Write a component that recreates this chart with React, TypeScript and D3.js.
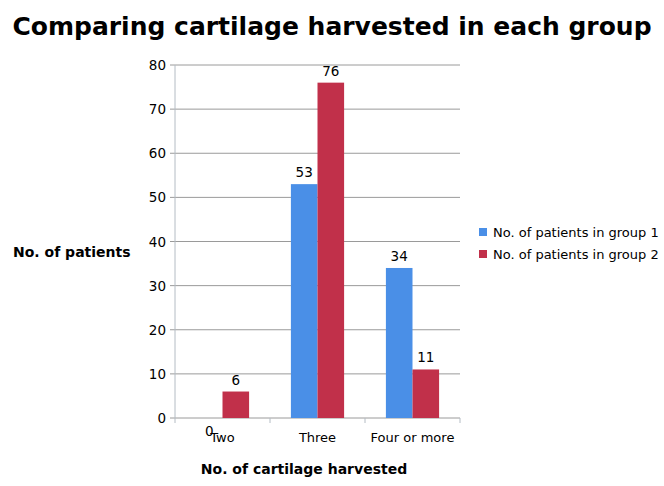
import React from "react";
import * as d3 from "d3";

const categories = ["Two", "Three", "Four or more"];
const seriesNames = ["No. of patients in group 1", "No. of patients in group 2"];
const group1 = [0, 53, 34];
const group2 = [6, 76, 11];
const yTicks = [0, 10, 20, 30, 40, 50, 60, 70, 80];
const colors = ["#4a8fe7", "#c1304a"];

const W = 664, H = 486;
const plot = { left: 175, right: 460, top: 65, bottom: 418 };
const font = "'DejaVu Sans', sans-serif";

export default function App() {
  const x = d3.scaleBand().domain(categories).range([plot.left, plot.right]).paddingInner(0).paddingOuter(0);
  const y = d3.scaleLinear().domain([0, 80]).range([plot.bottom, plot.top]);
  const series = [group1, group2];
  const barW = x.bandwidth() * 0.28;
  const grid = "#9a9a9a";
  const axis = "#b4bcc4";
  const boundaries = [...categories.map((c) => x(c) as number), plot.right];

  return (
    <svg width={W} height={H} style={{ position: "absolute", left: 0, top: 0, background: "#fff" }} fontFamily={font}>
      <rect width={W} height={H} fill="#fff" />
      <text x={332} y={35} textAnchor="middle" fontWeight="bold" fontSize={25} fill="#000">
        Comparing cartilage harvested in each group
      </text>
      {yTicks.map((t) => (
        <g key={t}>
          <line x1={plot.left - 5} x2={plot.right} y1={y(t)} y2={y(t)} stroke={grid} strokeWidth={1} />
          <text x={166} y={y(t) + 5} textAnchor="end" fontSize={13.5} fill="#000">{t}</text>
        </g>
      ))}
      <line x1={plot.left} x2={plot.left} y1={plot.top} y2={plot.bottom} stroke={axis} />
      {boundaries.map((b, i) => (
        <line key={i} x1={b} x2={b} y1={plot.bottom} y2={plot.bottom + 5} stroke={axis} />
      ))}
      {categories.map((c, ci) => {
        const cx = (x(c) as number) + x.bandwidth() / 2;
        return (
          <g key={c}>
            {series.map((s, si) => {
              const bx = cx - barW + si * barW;
              const v = s[ci];
              return (
                <g key={si}>
                  <rect x={bx} y={y(v)} width={barW} height={y(0) - y(v)} fill={colors[si]} />
                  <text x={bx + barW / 2} y={v === 0 ? y(0) + 18 : y(v) - 7} textAnchor="middle" fontSize={13.5} fill="#000">{v}</text>
                </g>
              );
            })}
            <text x={cx} y={442} textAnchor="middle" fontSize={13} fill="#000">{c}</text>
          </g>
        );
      })}
      <text x={13} y={257} fontWeight="bold" fontSize={14} fill="#000">No. of patients</text>
      <text x={304} y={474} textAnchor="middle" fontWeight="bold" fontSize={14} fill="#000">No. of cartilage harvested</text>
      {seriesNames.map((n, i) => (
        <g key={n}>
          <rect x={479} y={228 + i * 22} width={8} height={8} fill={colors[i]} />
          <text x={493} y={237 + i * 22} fontSize={13} fill="#000">{n}</text>
        </g>
      ))}
    </svg>
  );
}
